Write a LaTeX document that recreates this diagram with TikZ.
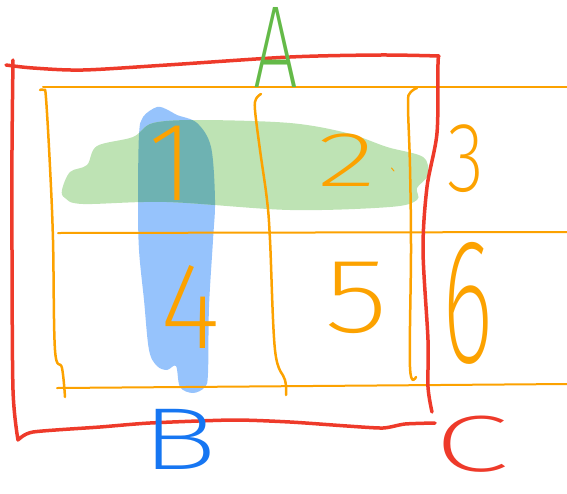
\documentclass[tikz,border=0pt]{standalone}
\usepackage{fontspec}
\usepackage{graphicx}
\IfFontExistsTF{Fira Sans ExtraLight}{\newfontfamily\hwfont{Fira Sans ExtraLight}}{%
 \IfFontExistsTF{Fira Sans Light}{\newfontfamily\hwfont{Fira Sans Light}}{%
  \IfFontExistsTF{Lato Light}{\newfontfamily\hwfont{Lato Light}}{%
   \newfontfamily\hwfont{Fira Sans}}}}
\newcommand\hwt[3]{\fontsize{#1}{#1}\selectfont\scalebox{#2}[1]{#3}}
\definecolor{penred}{RGB}{238,58,42}
\definecolor{penorange}{RGB}{252,162,0}
\definecolor{pengreen}{RGB}{100,186,72}
\definecolor{penblue}{RGB}{22,118,242}
\definecolor{blobblue}{RGB}{150,195,252}
\definecolor{blobgreen}{RGB}{190,227,180}
\definecolor{blobteal}{RGB}{110,178,178}
\tikzset{
  redpen/.style={draw=penred, line width=3.5pt, line cap=round, line join=round},
  gridpen/.style={draw=penorange, line width=2pt, line cap=round},
  colpen/.style={draw=penorange, line width=2.5pt, line cap=round, line join=round},
  hw/.style={inner sep=0pt, font=\hwfont},
}
\def\greenblob{plot[smooth cycle, tension=0.55] coordinates {(62,190) (70,172) (87,165) (97,146) (133,137) (153,123) (200,120) (290,123) (347,133) (387,147) (423,157) (428,175) (417,188) (417,200) (390,207) (290,210) (167,202) (83,204) (65,198)}}
\def\blueblob{plot[smooth cycle, tension=0.55] coordinates {(157,107) (143,117) (139,135) (138,200) (139,250) (144,300) (149,350) (157,366) (167,370) (176,366) (180,387) (193,393) (205,387) (208,373) (209,307) (213,240) (215,200) (211,147) (197,123) (177,115) (168,110)}}
\begin{document}
\begin{tikzpicture}[x=1pt,y=-1pt]
\useasboundingbox (0,0) rectangle (567,493);
% highlight blobs
\fill[blobblue] \blueblob;
\fill[blobgreen] \greenblob;
\begin{scope}
  \clip \blueblob;
  \fill[blobteal] \greenblob;
\end{scope}
% orange grid lines
\draw[gridpen] (43,87) -- (567,87);
\draw[gridpen] (58,233) -- (567,232);
\draw[gridpen] (57,388) -- (567,384);
\draw[colpen] plot[smooth, tension=0.6] coordinates {(40,90) (44,90) (46,98) (50,167) (53,240) (55,350) (62,368) (65,397)};
\draw[colpen] plot[smooth, tension=0.6] coordinates {(261,94) (256,99) (255,110) (260,150) (267,200) (270,240) (275,350) (285,380) (286,395)};
\draw[colpen] plot[smooth, tension=0.6] coordinates {(417,88) (410,93) (408,105) (410,167) (411,250) (410,367) (416,377)};
% red frame
\draw[redpen] plot[smooth, tension=0.5] coordinates {(6,65) (33,68) (83,70) (167,65) (290,57) (380,55) (439,56)} -- plot[smooth, tension=0.5] coordinates {(439,56) (438,64) (437,133) (427,187) (423,250) (428,340) (428,387) (432,412)};
\draw[redpen] plot[smooth, tension=0.5] coordinates {(13,60) (12,150) (12,250) (13,390) (18,440)} -- plot[smooth, tension=0.4] coordinates {(18,440) (33,432) (100,427) (150,423) (233,420) (290,422) (347,426) (383,428) (405,424) (435,423)};
% labels
\node[hw, text=pengreen, anchor=base] (A) at (276,87) {\hwt{117}{0.68}{A}};
\node[hw, text=penblue, anchor=base] (B) at (179,469) {\hwt{88}{1.45}{B}};
\node[hw, text=penred, anchor=base] (C) at (472,471) {\hwt{80}{1.7}{C}};
\node[hw, text=penorange] (n1) at (171,163) {\hwt{112}{1}{1}};
\node[hw, text=penorange] (n2) at (347,160) {\hwt{78}{1.6}{2}};
\node[hw, text=penorange] (n3) at (466,159) {\hwt{99}{0.77}{3}};
\node[hw, text=penorange] (n4) at (190,307) {\hwt{123}{0.95}{4}};
\node[hw, text=penorange] (n5) at (356,298) {\hwt{106}{1.25}{5}};
\node[hw, text=penorange] (n6) at (468,303) {\hwt{178}{0.55}{6}};
\draw[penorange, line width=1pt, line cap=round] (391.5,168) -- (394,171);
\end{tikzpicture}
\end{document}
